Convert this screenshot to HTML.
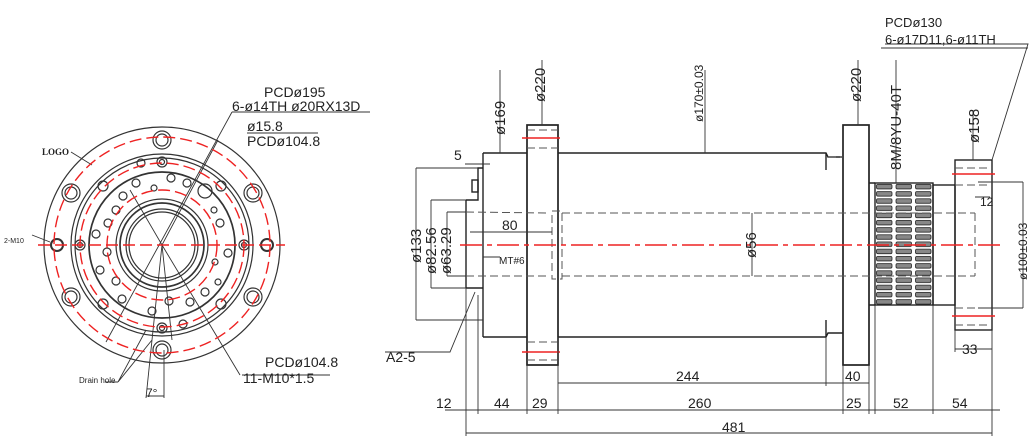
<!DOCTYPE html>
<html><head><meta charset="utf-8"><style>
html,body{margin:0;padding:0;background:#fff;}
svg{display:block;}
text{font-family:"Liberation Sans",sans-serif;fill:#222;}
</style></head><body>
<svg width="1036" height="444" viewBox="0 0 1036 444" xmlns="http://www.w3.org/2000/svg">
<defs>
<pattern id="teeth" patternUnits="userSpaceOnUse" x="875" y="183" width="19.5" height="7.2">
<rect x="1.5" y="1.3" width="15.5" height="4.6" rx="1.5" fill="#888" stroke="#222" stroke-width="0.8"/>
</pattern>
</defs>
<!-- LEFT VIEW -->
<g fill="none" stroke="#333" stroke-width="1.2">
<circle cx="162" cy="245" r="118"/>
<circle cx="162" cy="245" r="91"/>
<circle cx="162" cy="245" r="87"/>
<circle cx="162" cy="245" r="73" stroke-width="1.7"/>
<circle cx="162" cy="245" r="46"/>
<circle cx="162" cy="245" r="42" stroke-width="1.7"/>
<circle cx="162" cy="245" r="36"/>
<circle cx="162" cy="245" r="33"/>
<circle cx="162" cy="140" r="9"/><circle cx="162" cy="140" r="6"/>
<circle cx="162" cy="350" r="9"/><circle cx="162" cy="350" r="6"/>
<circle cx="71" cy="193" r="9"/><circle cx="71" cy="193" r="6"/>
<circle cx="253" cy="193" r="9"/><circle cx="253" cy="193" r="6"/>
<circle cx="71" cy="297" r="9"/><circle cx="71" cy="297" r="6"/>
<circle cx="253" cy="297" r="9"/><circle cx="253" cy="297" r="6"/>
<circle cx="57" cy="245" r="6" stroke-width="2"/>
<circle cx="267" cy="245" r="6" stroke-width="2"/>
<circle cx="162" cy="162" r="5"/><circle cx="162" cy="162" r="2.5"/>
<circle cx="162" cy="328" r="5"/><circle cx="162" cy="328" r="2.5"/>
<circle cx="80" cy="245" r="5"/><circle cx="80" cy="245" r="2.5"/>
<circle cx="244" cy="245" r="5"/><circle cx="244" cy="245" r="2.5"/>
<circle cx="103" cy="186" r="5"/><circle cx="221" cy="186" r="5"/>
<circle cx="103" cy="304" r="5"/><circle cx="221" cy="304" r="5"/>
<circle cx="141" cy="163" r="4"/><circle cx="183" cy="324" r="4"/>
<circle cx="136" cy="183" r="4"/><circle cx="171" cy="178" r="4"/><circle cx="187" cy="183" r="4"/>
<circle cx="205" cy="191" r="7"/><circle cx="214" cy="210" r="3"/><circle cx="220" cy="223" r="4"/>
<circle cx="228" cy="253" r="4"/><circle cx="215" cy="262" r="3"/><circle cx="218" cy="282" r="3"/>
<circle cx="205" cy="292" r="4"/><circle cx="190" cy="302" r="4"/><circle cx="169" cy="301" r="4"/>
<circle cx="152" cy="311" r="4"/><circle cx="122" cy="299" r="4"/><circle cx="116" cy="281" r="4"/>
<circle cx="100" cy="270" r="4"/><circle cx="107" cy="252" r="4"/><circle cx="96" cy="234" r="4"/>
<circle cx="108" cy="223" r="4"/><circle cx="116" cy="210" r="4"/><circle cx="123" cy="196" r="4"/>
<circle cx="154" cy="188" r="3"/>
</g>
<g fill="none" stroke="#333" stroke-width="0.9">
<path d="M232 112 L106 342 M218 140 L162 245 L130 190 M162 245 L240 375 M162 245 L152 340 M162 245 L172 340"/>
<path d="M242 375 L330 375 M232 112 L370 112 M247 133 L318 133 M71 152 L92 165 M32 235 L50 242"/>
<path d="M118 382 L146 330 M118 382 L152 340 M105 382 L118 382 M152 340 L146 398 M164 350 L164 398 M146 396 L164 396"/>
</g>
<g fill="none" stroke="#e22" stroke-width="1.4" stroke-dasharray="12 5">
<circle cx="162" cy="245" r="108"/>
<circle cx="162" cy="245" r="82"/>
<circle cx="162" cy="245" r="55"/>
<path d="M38 245 L285 245"/>
</g>
<text x="264" y="97" font-size="14">PCDø195</text>
<text x="232" y="111" font-size="14">6-ø14TH  ø20RX13D</text>
<text x="247" y="131" font-size="14">ø15.8</text>
<text x="247" y="146" font-size="14">PCDø104.8</text>
<text x="42" y="155" font-size="9" font-weight="bold" style="font-family:'Liberation Serif',serif">LOGO</text>
<text x="4" y="243" font-size="7">2-M10</text>
<text x="79" y="383" font-size="8">Drain hole</text>
<text x="146" y="397" font-size="12">7°</text>
<text x="265" y="367" font-size="14">PCDø104.8</text>
<text x="243" y="383" font-size="14">11-M10*1.5</text>

<!-- SIDE VIEW -->
<g fill="none" stroke="#222" stroke-width="1.4">
<path d="M466 200 L466 288"/>
<path d="M466 200 L478 200 L478 168 L483 168 M466 288 L478 288 L483 288"/>
<rect x="472" y="180" width="6" height="12"/>
<path d="M483 153 L527 153 M483 337 L527 337 M483 153 L483 337"/>
<rect x="527" y="125" width="31" height="240" stroke-width="1.7"/>
<path d="M558 153 L826 153 L828 157 L843 157 M558 337 L826 337 L828 333 L843 333"/>
<path d="M826 153 L826 170 M826 337 L826 320"/>
<rect x="843" y="125" width="26" height="240" stroke-width="1.7"/>
<path d="M869 183 L875 183 M869 305 L875 305"/>
<rect x="875" y="183" width="58" height="122" fill="url(#teeth)"/>
<rect x="933" y="185" width="22" height="120"/>
<rect x="955" y="160" width="37" height="170"/>
</g>
<g fill="none" stroke="#555" stroke-width="1" stroke-dasharray="8 4">
<path d="M466 212 L548 213 M466 276 L548 276"/>
<rect x="552" y="211" width="10" height="68"/>
<path d="M562 213 L975 213 M562 276 L975 276"/>
<path d="M527 130 L558 130 M527 148 L558 148 M527 342 L558 342 M527 360 L558 360"/>
<path d="M955 168 L990 168 M955 185 L990 185 M955 308 L990 308 M955 325 L990 325"/>
<path d="M975 213 L975 276 M828 157 L843 157"/>
</g>
<g fill="none" stroke="#e22" stroke-width="1.4">
<path d="M460 245 L1000 245" stroke-dasharray="22 5 5 5"/>
<path d="M522 138 L560 138 M522 352 L560 352 M952 174 L995 174 M952 316 L995 316"/>
</g>
<g fill="none" stroke="#333" stroke-width="0.9">
<path d="M466 288 L466 436 M478 295 L478 414 M527 365 L527 414 M558 337 L558 414 M826 337 L826 386 M843 365 L843 414 M869 365 L869 414 M875 305 L875 414 M933 305 L933 414 M992 330 L992 436 M955 330 L955 352"/>
<path d="M445 410 L1000 410 M558 383 L869 383 M466 433 L992 433 M955 349 L992 349"/>
<path d="M416 168 L478 168 M416 168 L416 320 M416 320 L483 320 M431 200 L466 200 M431 200 L431 288 M431 288 L466 288 M447 212 L466 212 M447 212 L447 276 M447 276 L466 276"/>
<path d="M470 232 L552 232 M465 164 L490 164"/>
<path d="M500 153 L500 70 M542 125 L542 60 M705 153 L705 70 M858 125 L858 60 M896 183 L896 60 M973 160 L973 110"/>
<path d="M752 213 L752 276 M978 182 L1023 182 M1023 182 L1023 308 M978 308 L1023 308 M975 197 L990 197"/>
<path d="M885 44 L1028 44 L992 160 M881 48 L1028 48"/>
<path d="M483 257 L500 257 M475 292 L450 352 L385 352"/>
</g>
<text x="885" y="27" font-size="13">PCDø130</text>
<text x="885" y="44" font-size="13">6-ø17D11,6-ø11TH</text>
<g font-size="15">
<text transform="translate(505,135) rotate(-90)">ø169</text>
<text transform="translate(545,102) rotate(-90)">ø220</text>
<text transform="translate(861,102) rotate(-90)">ø220</text>
<text transform="translate(901,170) rotate(-90)">8M/8YU-40T</text>
<text transform="translate(979,143) rotate(-90)">ø158</text>
<text transform="translate(421,263) rotate(-90)">ø133</text>
<text transform="translate(436,274) rotate(-90)">ø82.56</text>
<text transform="translate(451,274) rotate(-90)">ø63.29</text>
<text transform="translate(756,258) rotate(-90)">ø56</text>
</g>
<text transform="translate(703,122) rotate(-90)" font-size="12">ø170±0.03</text>
<text transform="translate(1027,280) rotate(-90)" font-size="12">ø100±0.03</text>
<g font-size="14">
<text x="502" y="230">80</text>
<text x="454" y="160">5</text>
<text x="980" y="206" font-size="12">12</text>
<text x="436" y="408">12</text>
<text x="494" y="408">44</text>
<text x="532" y="408">29</text>
<text x="688" y="408">260</text>
<text x="846" y="408">25</text>
<text x="893" y="408">52</text>
<text x="952" y="408">54</text>
<text x="676" y="381">244</text>
<text x="845" y="381">40</text>
<text x="962" y="354">33</text>
<text x="722" y="432">481</text>
<text x="386" y="362">A2-5</text>
</g>
<text x="499" y="264" font-size="10" fill="#666">MT#6</text>
</svg>
</body></html>
